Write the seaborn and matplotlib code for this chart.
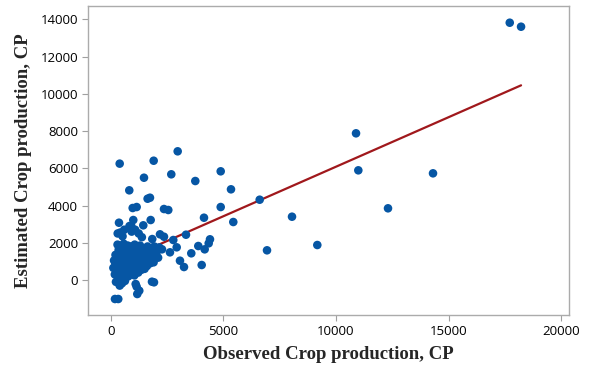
import matplotlib
matplotlib.use("Agg")
import matplotlib.pyplot as plt
import seaborn as sns
import pandas as pd
import numpy as np

# Observed vs estimated crop production (CP)
observed = [
    120, 150, 185, 205, 215, 235, 255, 262, 285, 305, 312, 325, 333, 342, 355, 362, 372, 384, 395, 402,
    413, 425, 433, 446, 452, 467, 474, 486, 493, 506, 512, 527, 535, 544, 556, 563, 578, 585, 597, 604,
    618, 626, 634, 645, 652, 668, 675, 683, 694, 706, 713, 724, 736, 742, 755, 768, 774, 787, 793, 806,
    815, 824, 836, 842, 857, 863, 874, 886, 895, 904, 915, 926, 933, 946, 957, 963, 978, 984, 995, 1006,
    1013, 1028, 1034, 1046, 1053, 1067, 1074, 1086, 1095, 1107, 1126, 1143, 1165, 1184, 1206, 1223, 1245, 1262, 1287, 1305,
    1326, 1344, 1366, 1385, 1404, 1428, 1446, 1467, 1485, 1506, 1527, 1546, 1568, 1585, 1607, 1636, 1664, 1695, 1726, 1757,
    1786, 1815, 1846, 1874, 1906, 1937, 1965, 2008, 2055, 2106, 2158,
    400, 1909, 2975, 1479, 2691, 826, 4885, 3757, 5342, 1745, 1640, 1154, 977, 2367, 2558, 4885,
    4143, 5444, 369, 1004, 915, 1776, 1448, 3344, 2189, 2367, 2780, 4409, 4352, 3890, 4174, 2931,
    3579, 2633, 2278, 3077, 3255, 4041, 1834, 1923, 1110, 1154, 1270, 1181, 191, 337, 502,
    6616, 8051, 6941, 9174, 10893, 10995, 14311, 12313, 17718, 18220,
]
estimated = [
    650, 1050, 300, 900, 1350, -100, 500, 1150, 750, 1900, 2500, 200, 1250, 850, 1600, 450, 1700, 1000, 600, -300,
    1450, 2550, 800, 1150, 350, 1750, 950, 1250, 650, 1300, 150, 2350, 1050, 550, 1550, 850, 1950, 400, 1200, 2700,
    700, 1400, -50, 1000, 1750, 500, 1400, 1250, 800, 1550, 300, 1600, 1100, 600, 1850, 900, 1350, 200, 1150, 1050,
    650, 1600, 2900, 850, 1250, 450, 1300, 1450, 750, 1800, 1000, 350, 2600, 1200, 600, 1650, 900, 1100, 1350, 500,
    1450, 1100, 750, 1500, 250, 1900, 950, 2700, 1250, 650, 1700, 1050, 1250, 800, 1450, 400, 2500, 1150, 700, 1850,
    950, 1350, 550, 2300, 1150, 1700, 850, 1050, 1350, 600, 1550, 1000, 1350, 1250, 750, 1800, 1100, 1150, 1450, 900,
    1650, 1200, 2200, 1500, 950, 1800, 1300, 1400, 1550, 1200, 1750,
    6250, 6407, 6912, 5494, 5677, 4817, 5838, 5317, 4871, 4420, 4366, 3920, 3867, 3813, 3760, 3920,
    3346, 3115, 3077, 3222, 2900, 3222, 2937, 2433, 2454, 2325, 2148, 2186, 1971, 1826, 1648, 1756,
    1434, 1487, 1648, 1037, 698, 806, -91, -124, -215, -360, -574, -752, -1020, -1020, -177,
    4313, 3400, 1595, 1880, 7879, 5891, 5730, 3851, 13819, 13604,
]

# Fitted line: Estimated = intercept + slope * Observed
fit_intercept = 763
fit_slope = 0.532

x_ticks = [0, 5000, 10000, 15000, 20000]
y_ticks = [0, 2000, 4000, 6000, 8000, 10000, 12000, 14000]

df = pd.DataFrame({"Observed": observed, "Estimated": estimated})
fit_x = [min(observed), max(observed)]
fit = pd.DataFrame({"x": fit_x, "y": [fit_intercept + fit_slope * v for v in fit_x]})

sns.set_theme(style="white")
fig = plt.figure(figsize=(5.94, 3.69), dpi=100)
ax = fig.add_axes([0.1476, 0.1463, 0.8104, 0.8374])

sns.lineplot(data=fit, x="x", y="y", ax=ax, color="#A0181C", linewidth=1.6, zorder=2)
sns.scatterplot(data=df, x="Observed", y="Estimated", ax=ax, color="#0656A4",
                s=38, edgecolor="none", linewidth=0, zorder=3)

ax.set_xlim(-1021, 20351)
ax.set_ylim(-1880, 14716)
ax.set_xticks(x_ticks)
ax.set_yticks(y_ticks)
ax.set_xticklabels([str(v) for v in x_ticks], fontfamily="Open Sans", fontsize=9.5)
ax.set_yticklabels([str(v) for v in y_ticks], fontfamily="Open Sans", fontsize=9.5)
ax.tick_params(axis="both", direction="out", length=4, width=0.8, color="#A0A0A0",
               pad=3, labelcolor="black", bottom=True, left=True)

for sp in ax.spines.values():
    sp.set_color("#ABABAB")
    sp.set_linewidth(1.0)

ax.set_xlabel("Observed Crop production, CP", fontfamily="Liberation Serif",
              fontweight="bold", fontsize=13.5, labelpad=6)
ax.set_ylabel("Estimated Crop production, CP", fontfamily="Liberation Serif",
              fontweight="bold", fontsize=13.5, labelpad=6)

fig.savefig("out.png", dpi=100)
